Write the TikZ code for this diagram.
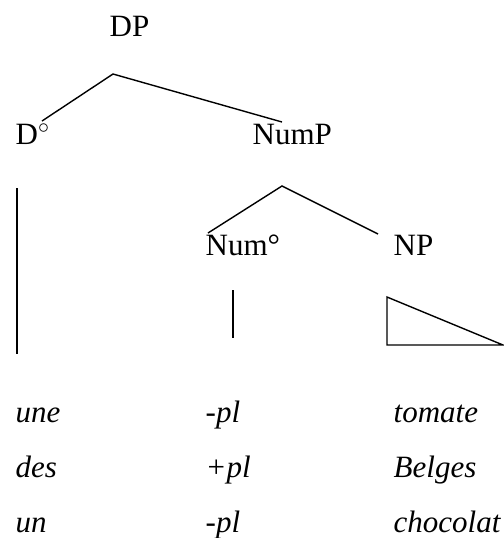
\documentclass[tikz,border=0pt]{standalone}
\usepackage{fontspec}
\setmainfont{Liberation Serif}
\usetikzlibrary{positioning,calc}

\begin{document}
\begin{tikzpicture}[x=0.5pt,y=-0.5pt,line width=0.7pt]

\tikzstyle{cat}=[anchor=base west, inner sep=0pt, font=\fontsize{15.5}{18}\selectfont]
\tikzstyle{word}=[cat, font=\fontsize{15.5}{18}\selectfont\itshape]

\useasboundingbox (0,0) rectangle (504,538);

%categories
\node[cat] (dp) at (109,36) {DP};
\node[cat] (d) at (15,144) {D$^\circ$};
\node[cat] (nump) at (252,144) {NumP};
\node[cat] (num) at (205,255) {Num°};
\node[cat] (np) at (393,255) {NP};

%branch points
\coordinate (dp-top) at (113,74);
\coordinate (d-end) at (42,121);
\coordinate (nump-end) at (282,122);
\coordinate (nump-top) at (282,186);
\coordinate (num-end) at (208,233);
\coordinate (np-end) at (378,234);

\draw (d-end) -- (dp-top) -- (nump-end);
\draw (num-end) -- (nump-top) -- (np-end);

%lines down
\coordinate (d-top) at (17,188);
\coordinate (d-bot) at (17,354);
\coordinate (num-top) at (233,290);
\coordinate (num-bot) at (233,338);
\draw (d-top) -- (d-bot);
\draw (num-top) -- (num-bot);

%triangle
\coordinate (np-a) at (387,297);
\coordinate (np-b) at (387,345);
\coordinate (np-c) at (503,345);
\draw (np-a) -- (np-b) -- (np-c) -- cycle;

%words
\foreach \det/\feat/\noun [count=\i] in {une/-pl/tomate, des/+pl/Belges, un/-pl/chocolat}
{
\node[word] (det\i) at (15,367+55*\i) {\det};
\node[word] (feat\i) at (205,367+55*\i) {\feat};
\node[word] (noun\i) at (393,367+55*\i) {\noun};
}

\end{tikzpicture}
\end{document}
